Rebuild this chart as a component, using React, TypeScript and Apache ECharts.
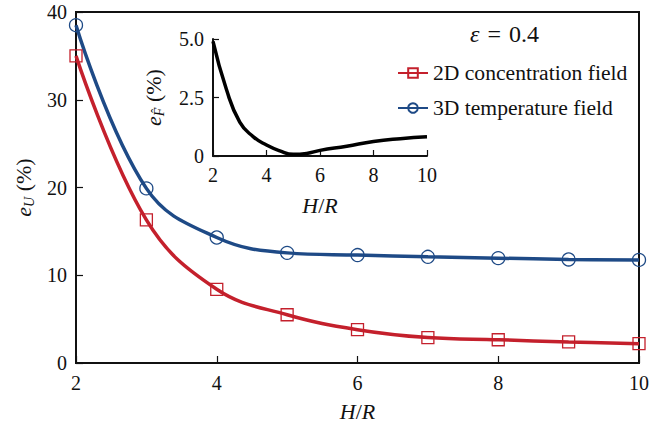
import React, { useEffect, useRef } from "react";
import * as echarts from "echarts";

const FONT = "Liberation Serif, Times New Roman, serif";
const INK = "#111";
const RED = "#C4202C";
const BLUE = "#1E4A86";

// Main plot data
const ratioHR = [2, 3, 4, 5, 6, 7, 8, 9, 10];
const conc2D = [35.0, 16.3, 8.4, 5.5, 3.8, 2.9, 2.65, 2.4, 2.2];
const temp3D = [38.5, 19.9, 14.3, 12.55, 12.3, 12.1, 11.95, 11.8, 11.75];

// Inset data
const insetHR = [2, 2.5, 3, 3.5, 4, 4.5, 5, 5.5, 6, 7, 8, 9, 10];
const insetErr = [4.9, 2.85, 1.45, 0.83, 0.47, 0.22, 0.07, 0.11, 0.24, 0.42, 0.62, 0.74, 0.82];

const mainYTicks = { min: 0, max: 40, interval: 10 };
const insetYTicks = { min: 0, max: 5, interval: 2.5 };
const xTicks = { min: 2, max: 10, interval: 2 };

const seriesNames = ["2D concentration field", "3D temperature field"];

export default function App() {
  const ref = useRef<HTMLDivElement>(null);

  useEffect(() => {
    document.body.style.margin = "0";
    if (!ref.current) return;
    const chart = echarts.init(ref.current, undefined, { renderer: "svg" });

    const axisLine = { lineStyle: { color: INK, width: 2 } };
    const tick = { inside: true, length: 7, lineStyle: { color: INK, width: 1.2 } };
    const label = { fontSize: 20, color: INK, fontFamily: FONT };
    const italicRich = {
      i: { fontStyle: "italic", fontSize: 22, fontFamily: FONT, color: INK },
      n: { fontSize: 22, fontFamily: FONT, color: INK },
      s: { fontStyle: "italic", fontSize: 14, fontFamily: FONT, color: INK, lineHeight: 14, padding: [12, 0, 0, 0] },
    };

    const option: any = {
      animation: false,
      textStyle: { fontFamily: FONT, color: INK },
      grid: [
        { left: 76, right: 11, top: 12, bottom: 62, show: true, borderColor: INK, borderWidth: 2, backgroundColor: "transparent" },
        { left: 213, right: 225, top: 39, bottom: 271 },
      ],
      xAxis: [
        {
          gridIndex: 0, type: "value", ...xTicks,
          axisLine, axisTick: tick, splitLine: { show: false },
          axisLabel: { ...label, margin: 10 },
          name: "{i|H}{n|/}{i|R}", nameLocation: "middle", nameGap: 37,
          nameTextStyle: { fontFamily: FONT, rich: italicRich },
        },
        {
          gridIndex: 1, type: "value", ...xTicks,
          axisLine, axisTick: { ...tick, length: 6 }, splitLine: { show: false },
          axisLabel: { ...label, margin: 9 },
          name: "{i|H}{n|/}{i|R}", nameLocation: "middle", nameGap: 38,
          nameTextStyle: { fontFamily: FONT, rich: italicRich },
        },
      ],
      yAxis: [
        {
          gridIndex: 0, type: "value", ...mainYTicks,
          axisLine, axisTick: tick, splitLine: { show: false },
          axisLabel: { ...label, margin: 9 },
          name: "{i|e}{s|U}{n| (%)}", nameLocation: "middle", nameGap: 40,
          nameTextStyle: { fontFamily: FONT, rich: italicRich },
        },
        {
          gridIndex: 1, type: "value", ...insetYTicks,
          axisLine, axisTick: { ...tick, length: 6 }, splitLine: { show: false },
          axisLabel: { ...label, margin: 9, formatter: (v: number) => (v === 0 ? "0" : v.toFixed(1)) },
          name: "{i|e}{s|F\u0302}{n| (%)}", nameLocation: "middle", nameGap: 49,
          nameTextStyle: { fontFamily: FONT, rich: italicRich },
        },
      ],
      legend: {
        orient: "vertical",
        left: 392,
        top: 57,
        itemWidth: 30,
        itemHeight: 12,
        itemGap: 13,
        textStyle: { fontSize: 21.6, fontFamily: FONT, color: INK },
        data: seriesNames,
      },
      graphic: [
        {
          type: "text",
          left: 470,
          top: 22,
          style: {
            text: "{i|ε}\u2004=\u20040.4",
            rich: {
              i: { fontStyle: "italic", fontSize: 24, fontFamily: FONT, fill: INK },
            },
            fontSize: 24,
            fontFamily: FONT,
            fill: INK,
          },
        },
      ],
      series: [
        {
          name: seriesNames[0],
          type: "line",
          xAxisIndex: 0, yAxisIndex: 0,
          data: ratioHR.map((x, i) => [x, conc2D[i]]),
          smooth: 0.4,
          clip: false,
          symbol: "rect",
          symbolSize: 12,
          lineStyle: { color: RED, width: 3.5 },
          itemStyle: { color: "transparent", borderColor: RED, borderWidth: 1.3 },
          z: 3,
        },
        {
          name: seriesNames[1],
          type: "line",
          xAxisIndex: 0, yAxisIndex: 0,
          data: ratioHR.map((x, i) => [x, temp3D[i]]),
          smooth: 0.4,
          clip: false,
          symbol: "circle",
          symbolSize: 13,
          lineStyle: { color: BLUE, width: 3.5 },
          itemStyle: { color: "transparent", borderColor: BLUE, borderWidth: 1.3 },
          z: 3,
        },
        {
          name: "inset",
          type: "line",
          xAxisIndex: 1, yAxisIndex: 1,
          data: insetHR.map((x, i) => [x, insetErr[i]]),
          smooth: 0.5,
          showSymbol: false,
          clip: false,
          lineStyle: { color: "#000", width: 3.5 },
          itemStyle: { color: "#000" },
        },
      ],
    };

    chart.setOption(option);
    return () => chart.dispose();
  }, []);

  return <div ref={ref} style={{ width: 652, height: 427 }} />;
}
